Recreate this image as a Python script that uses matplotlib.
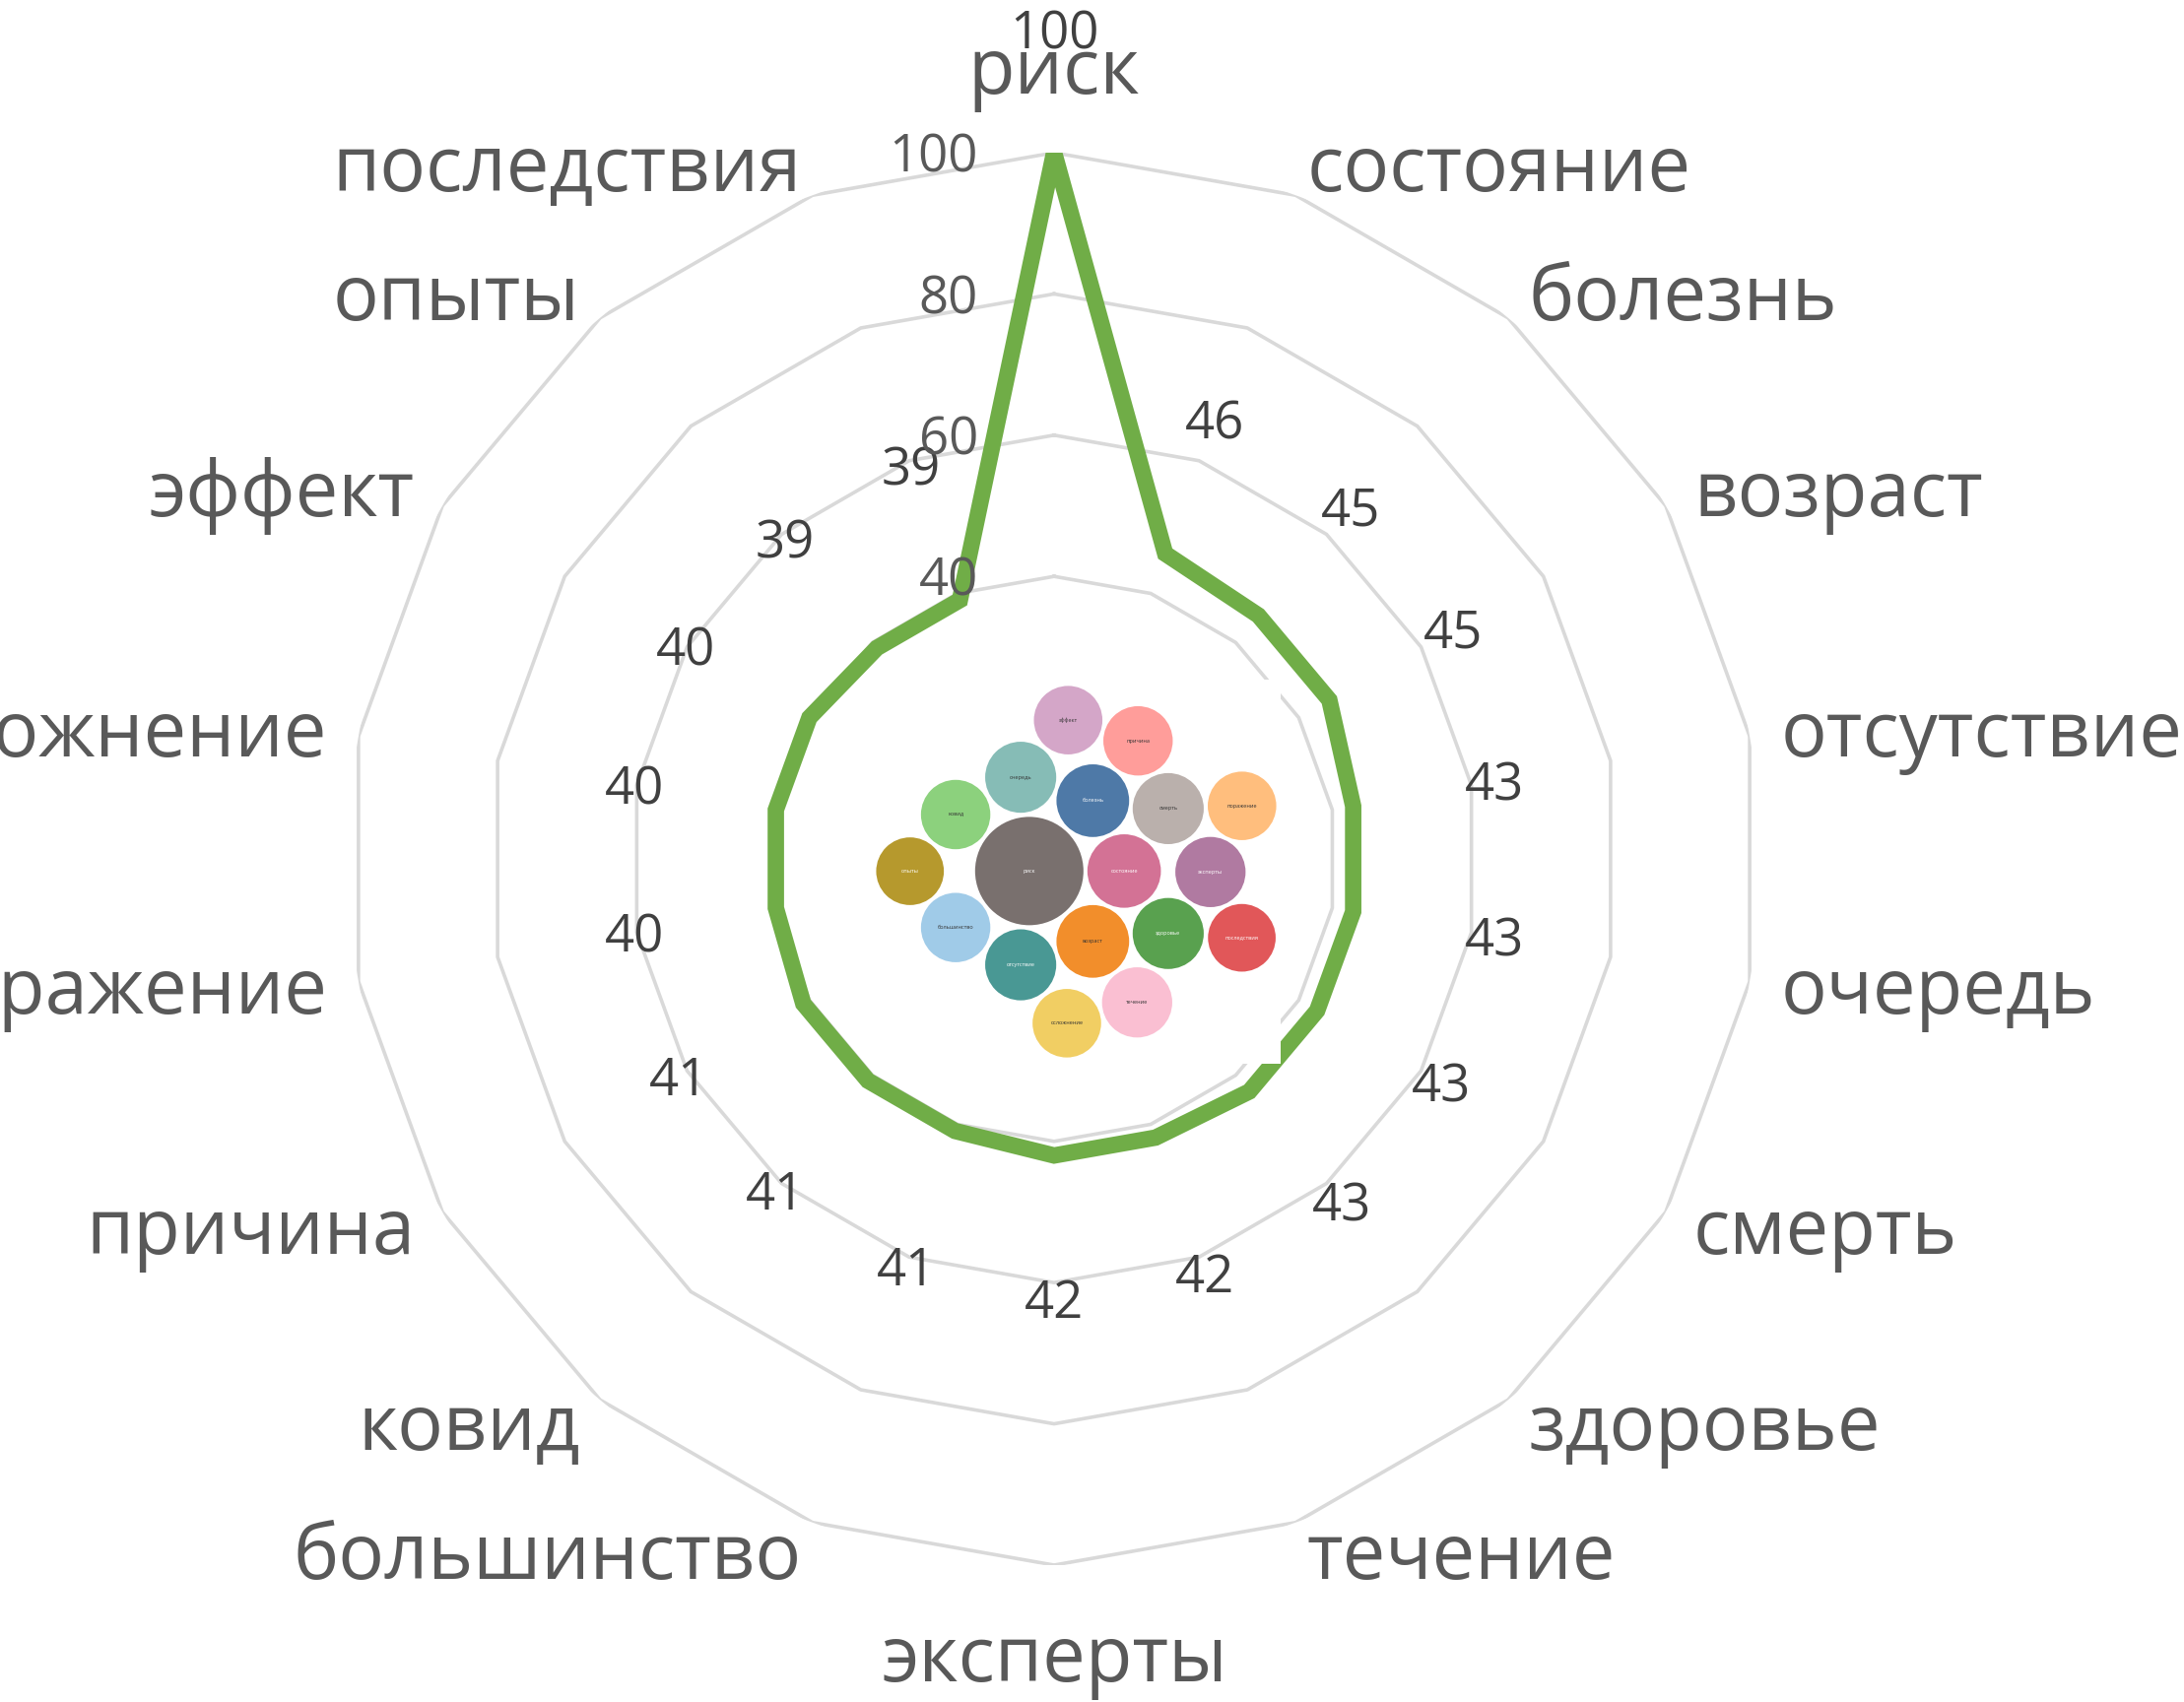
import numpy as np
import matplotlib
matplotlib.use("Agg")
import matplotlib.pyplot as plt
from matplotlib.transforms import offset_copy
from matplotlib.patches import Circle

plt.rcParams["font.family"] = ["Open Sans", "DejaVu Sans"]

# --- данные (по часовой стрелке от верха) ---
words = ["риск", "состояние", "болезнь", "возраст", "отсутствие", "очередь",
         "смерть", "здоровье", "течение", "эксперты", "большинство", "ковид",
         "причина", "поражение", "осложнение", "эффект", "опыты", "последствия"]
values = [100, 46, 45, 45, 43, 43, 43, 43, 42, 42, 41, 41, 41, 40, 40, 40, 39, 39]
ring_ticks = [20, 40, 60, 80, 100]

# цвета пузырьков (Tableau 20)
bubble_colors = {
    "риск": "#79706E", "состояние": "#D37295", "болезнь": "#4E79A7",
    "возраст": "#F28E2B", "отсутствие": "#499894", "очередь": "#86BCB6",
    "смерть": "#BAB0AC", "здоровье": "#59A14F", "течение": "#FABFD2",
    "эксперты": "#B07AA1", "большинство": "#A0CBE8", "ковид": "#8CD17D",
    "причина": "#FF9D9A", "поражение": "#FFBE7D", "осложнение": "#F1CE63",
    "эффект": "#D4A6C8", "опыты": "#B6992D", "последствия": "#E15759",
}

W, H = 2217, 1728
cx, cy, R = 1070, 872, 717   # центр радара и радиус кольца 100, px

fig = plt.figure(figsize=(W / 100, H / 100), dpi=100)
ax = fig.add_axes([(cx - R) / W, (H - cy - R) / H, 2 * R / W, 2 * R / H],
                  projection="polar")
ax.set_theta_zero_location("N")
ax.set_theta_direction(-1)
ax.set_ylim(0, 100)
ax.axis("off")

n = len(words)
theta = np.arange(n) * 2 * np.pi / n

# сетка-многоугольники
for v in ring_ticks:
    ax.plot(np.append(theta, theta[0]), [v] * (n + 1), color="#D9D9D9",
            lw=2.6, zorder=1)

# линия ряда
ax.fill(theta, values, facecolor="none", edgecolor="#70AD47", lw=12,
        joinstyle="miter", zorder=3)

# текст в Excel сидит чуть ниже, чем va="center" в matplotlib
txt_tr = offset_copy(ax.transData, fig=fig, x=0, y=-6, units="dots")

# подписи данных (не выше края области диаграммы)
for th, v in zip(theta, values):
    ax.text(th, min(v + 20.3, 117.4), str(v), transform=txt_tr,
            ha="center", va="center", fontsize=38, color="#404040", zorder=4)

# подписи шкалы
tick_tr = offset_copy(ax.transData, fig=fig, x=-77, y=-6, units="dots")
for v in ring_ticks:
    ax.text(0, v, str(v), transform=tick_tr, ha="right", va="center",
            fontsize=38, color="#595959", zorder=4)

# подписи категорий
for th, w in zip(theta, words):
    s, c = np.sin(th), np.cos(th)
    if abs(s) < 0.01:
        ha = "center"
        r = 112 if c > 0 else 112.7
    else:
        ha = "left" if s > 0 else "right"
        r = 104.5
    ax.text(th, r, w, transform=txt_tr, ha=ha, va="center", fontsize=56,
            color="#595959")

# --- пузырьковая диаграмма в центре ---
bx0, bx1, by0, by1 = 885, 1300, 690, 1080
iax = fig.add_axes([bx0 / W, (H - by1) / H, (bx1 - bx0) / W, (by1 - by0) / H])
iax.set_facecolor("white")
for sp in iax.spines.values():
    sp.set_visible(False)
iax.set_xticks([])
iax.set_yticks([])
hw, hh = (bx1 - bx0) / 2, (by1 - by0) / 2
iax.set_xlim(-hw, hw)
iax.set_ylim(-hh, hh)


def pack(radii, pad=4.0, target=(60.0, 0.0)):
    placed = []
    angs = np.linspace(0, 2 * np.pi, 240, endpoint=False)
    for r in radii:
        if not placed:
            placed.append((0.0, 0.0, r))
            continue
        P = np.array(placed)
        best = None
        for x1, y1, r1 in placed:
            d = r1 + r + pad
            xs = x1 + d * np.cos(angs)
            ys = y1 + d * np.sin(angs)
            dist = np.hypot(xs[:, None] - P[:, 0], ys[:, None] - P[:, 1])
            ok = np.all(dist >= P[:, 2] + r + pad - 1e-6, axis=1)
            if not ok.any():
                continue
            dt = (xs - target[0]) ** 2 + (ys - target[1]) ** 2
            dt[~ok] = np.inf
            k = np.argmin(dt)
            if best is None or dt[k] < best[0]:
                best = (dt[k], xs[k], ys[k])
        placed.append((best[1], best[2], r))
    return placed


order = np.argsort(values, kind="stable")[::-1]
radii = [5.5 * np.sqrt(values[i]) for i in order]
circles = pack(radii)
arr = np.array(circles)
mx = ((arr[:, 0] - arr[:, 2]).min() + (arr[:, 0] + arr[:, 2]).max()) / 2
my = ((arr[:, 1] - arr[:, 2]).min() + (arr[:, 1] + arr[:, 2]).max()) / 2
for i, (x, y, r) in zip(order, circles):
    col = bubble_colors[words[i]]
    iax.add_patch(Circle((x - mx, y - my), r, color=col, lw=0))
    rgb = matplotlib.colors.to_rgb(col)
    lum = 0.299 * rgb[0] + 0.587 * rgb[1] + 0.114 * rgb[2]
    iax.text(x - mx, y - my, words[i], ha="center", va="center", fontsize=4,
             color="#333333" if lum > 0.62 else "white")

fig.savefig("out.png", dpi=100, facecolor="white")
